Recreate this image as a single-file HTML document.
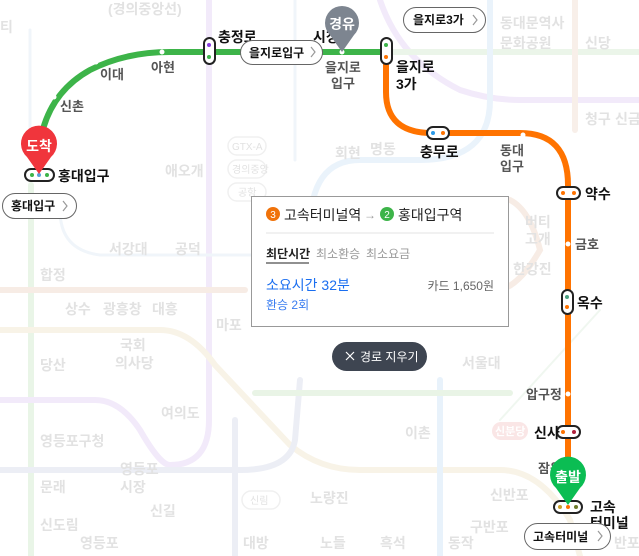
<!DOCTYPE html>
<html><head><meta charset="utf-8"><style>
html,body{margin:0;padding:0;background:#fff;}
body{width:639px;height:556px;overflow:hidden;position:relative;font-family:"Liberation Sans","Noto Sans CJK KR",sans-serif;}
svg{position:absolute;left:0;top:0;}
.f{font-family:"Liberation Sans","Noto Sans CJK KR",sans-serif;}
</style></head><body>
<svg width="639" height="556" viewBox="0 0 639 556" xmlns="http://www.w3.org/2000/svg">
<g fill="none" stroke-width="6" stroke-linecap="round">
<path d="M31 185 L31 556" stroke="#e9f5e7"/>
<path d="M209 0 L209 420 Q209 465 170 465" stroke="#f2eafa"/>
<path d="M0 400 L95 400 Q120 400 140 430 Q160 465 170 465" stroke="#f2eafa"/>
<path d="M380 0 Q400 60 460 90 Q490 100 520 100 L639 100" stroke="#f2eafa"/>
<path d="M0 330 L160 330 Q190 330 215 365 L290 445 Q320 470 360 470 L500 470 Q540 470 570 520 L580 556" stroke="#f8f3e7"/>
<path d="M0 470 L240 470 Q290 470 295 440 L300 380" stroke="#eceef5"/>
<path d="M0 290 L245 290" stroke="#f7ece5"/>
<path d="M235 420 L235 556" stroke="#eceef5"/>
<path d="M440 380 L440 556" stroke="#e8f2fb"/>
<path d="M386 52 L639 52" stroke="#ebf5e9"/>
<path d="M255 393 L510 393" stroke="#e9f4e6"/>
<path d="M310 230 Q310 160 360 160 L420 160 Q490 160 490 100 L490 0" stroke="#eaf3fb"/>
<path d="M575 0 L575 130" stroke="#f8efe9"/>
<path d="M510 200 Q530 210 540 250 Q520 285 500 290" stroke="#f7ece5"/>
<path d="M600 310 L500 420" stroke="#f0f7f0" stroke-width="2"/>
<path d="M60 210 Q60 250 100 255 L260 255" stroke="#f0f5fa" stroke-width="3"/>
<path d="M30 30 L30 150" stroke="#f0f5fa" stroke-width="3"/>
<path d="M295 0 L295 160" stroke="#f0f5fa" stroke-width="3"/>
</g>
<g class="f" font-size="14" fill="#e2e2e2" font-weight="bold">
<text x="108" y="14">(경의중앙선)</text><text x="0" y="32">티</text>
<text x="500" y="28">동대문역사</text><text x="500" y="48">문화공원</text>
<text x="585" y="48">신당</text><text x="585" y="124">청구</text><text x="615" y="124">신금</text>
<text x="165" y="176">애오개</text><text x="109" y="254">서강대</text><text x="175" y="254">공덕</text>
<text x="40" y="280">합정</text><text x="65" y="314">상수</text><text x="103" y="314">광흥창</text><text x="152" y="314">대흥</text>
<text x="216" y="330">마포</text><text x="120" y="350">국회</text><text x="115" y="368">의사당</text>
<text x="40" y="370">당산</text><text x="161" y="418">여의도</text><text x="40" y="446">영등포구청</text>
<text x="120" y="474">영등포</text><text x="120" y="492">시장</text><text x="40" y="492">문래</text>
<text x="150" y="516">신길</text><text x="40" y="530">신도림</text><text x="80" y="548">영등포</text>
<text x="310" y="503">노량진</text><text x="243" y="548">대방</text>
<text x="320" y="548">노들</text><text x="380" y="548">흑석</text><text x="448" y="548">동작</text>
<text x="470" y="532">구반포</text><text x="490" y="500">신반포</text><text x="614" y="548">반포</text>
<text x="462" y="368">서울대</text><text x="405" y="438">이촌</text><text x="335" y="158">회현</text><text x="370" y="154">명동</text>
<text x="525" y="227">버티</text><text x="525" y="244">고개</text><text x="513" y="274">한강진</text>
</g>
<g fill="none" stroke="#f0f0f0" stroke-width="1.5">
<rect x="228" y="137" width="38" height="18" rx="9"/><rect x="228" y="160" width="38" height="18" rx="9"/><rect x="228" y="183" width="38" height="18" rx="9"/>
<rect x="242" y="491" width="38" height="18" rx="9"/>
</g>
<g class="f" font-size="10" fill="#e2e2e2"><text x="232" y="150">GTX-A</text><text x="232" y="173">경의중앙</text><text x="238" y="196">공항</text><text x="250" y="504">신림</text></g>
<rect x="492" y="422" width="36" height="18" rx="9" fill="#fae6e6"/>
<text x="495" y="435" class="f" font-size="11" fill="#fff" font-weight="bold">신분당</text>
<g fill="none" stroke-linecap="round" stroke-width="6">
<path d="M39 172 L39 150 Q45 95 90 70 Q125 52 170 52 L386 52" stroke="#3db449"/>
<path d="M386 50 L386 92 Q386 133 432 133 L520 133 Q568 133 568 185 L568 505" stroke="#ff7300"/>
</g>
<g fill="#fff">
<circle cx="54" cy="97" r="2.5"/><circle cx="96" cy="62" r="2.5"/><circle cx="162" cy="52" r="2.5"/>
<circle cx="342" cy="52" r="2.5"/><circle cx="523" cy="135" r="2.5"/><circle cx="568" cy="244" r="2.5"/><circle cx="568" cy="394" r="2.5"/>
</g>
<g stroke="#222" stroke-width="2" fill="#fff">
<rect x="204" y="38" width="11" height="26" rx="5.5"/>
<rect x="381" y="38" width="11" height="26" rx="5.5"/>
<rect x="427" y="127" width="22" height="12" rx="6"/>
<rect x="557" y="187" width="23" height="12" rx="6"/>
<rect x="562" y="290" width="11" height="24" rx="5.5"/>
<rect x="557" y="426" width="23" height="12" rx="6"/>
<rect x="554" y="501" width="28" height="12" rx="6"/>
<rect x="25" y="169" width="29" height="12" rx="6"/>
</g>
<g>
<circle cx="209" cy="45" r="2" fill="#8a3ee0"/><circle cx="209" cy="57" r="2" fill="#3db449"/>
<circle cx="386" cy="45" r="2" fill="#3db449"/><circle cx="386" cy="57" r="2" fill="#ff7300"/>
<circle cx="433" cy="133" r="2" fill="#2b9ae9"/><circle cx="443" cy="133" r="2" fill="#ff7300"/>
<circle cx="563" cy="193" r="2" fill="#ff7300"/><circle cx="574" cy="193" r="2" fill="#ff7300"/>
<circle cx="567" cy="297" r="2" fill="#4aa080"/><circle cx="567" cy="307" r="2" fill="#ff7300"/>
<circle cx="563" cy="432" r="2" fill="#ff7300"/><circle cx="574" cy="432" r="2" fill="#b0213c"/>
<circle cx="560" cy="507" r="2" fill="#c9a02a"/><circle cx="568" cy="507" r="2" fill="#ff7300"/><circle cx="576" cy="507" r="2" fill="#6d7a2a"/>
<circle cx="32" cy="175" r="2" fill="#3db449"/><circle cx="39" cy="175" r="2" fill="#5aa0d8"/><circle cx="47" cy="175" r="2" fill="#3db449"/>
</g>
<g class="f" font-weight="bold" font-size="14" fill="#111">
<text x="58" y="181">홍대입구</text><text x="218" y="42">충정로</text><text x="313" y="42">시청</text>
<text x="396" y="72">을지로</text><text x="396" y="89">3가</text><text x="420" y="157">충무로</text>
<text x="585" y="199">약수</text><text x="577" y="308">옥수</text><text x="534" y="438">신사</text>
<text x="590" y="512">고속</text><text x="590" y="528">터미널</text>
</g>
<g class="f" font-size="13" fill="#555" font-weight="bold">
<text x="60" y="111">신촌</text><text x="100" y="79">이대</text><text x="151" y="72">아현</text>
<text x="325" y="72">을지로</text><text x="331" y="88">입구</text>
<text x="500" y="155">동대</text><text x="500" y="171">입구</text>
<text x="575" y="249">금호</text><text x="526" y="399">압구정</text><text x="538" y="473">잠원</text>
</g>
<rect x="538" y="458" width="30" height="20" fill="none"/>
<g stroke="#666" stroke-width="1" fill="#fff">
<rect x="2.5" y="193.5" width="74" height="25" rx="12.5"/>
<rect x="240.5" y="40.5" width="82" height="24" rx="12"/>
<rect x="403.5" y="7.5" width="82" height="25" rx="12.5"/>
<rect x="524.5" y="523.5" width="86" height="26" rx="13"/>
</g>
<g class="f" font-weight="bold" font-size="12" fill="#111">
<text x="11" y="210">홍대입구</text><text x="249" y="57">을지로입구</text><text x="413" y="24">을지로3가</text><text x="533" y="541">고속터미널</text>
</g>
<g fill="none" stroke="#999" stroke-width="1.2">
<path d="M63 201 l4 5 l-4 5"/><path d="M311 47 l4 5 l-4 5"/><path d="M473 15 l4 5 l-4 5"/><path d="M598 531 l4 5 l-4 5"/>
</g>
<path d="M39 174 L27 157 A18 18 0 1 1 51 157 Z" fill="#f0353c"/>
<text x="39" y="151" class="f" font-size="14" font-weight="bold" fill="#fff" text-anchor="middle">도착</text>
<path d="M342 52 L330 35 A17 17 0 1 1 354 35 Z" fill="#7d8590"/>
<text x="342" y="29" class="f" font-size="14" font-weight="bold" fill="#fff" text-anchor="middle">경유</text>
<path d="M568 505 L556 488 A18 18 0 1 1 580 488 Z" fill="#0bbd53"/>
<text x="568" y="482" class="f" font-size="14" font-weight="bold" fill="#fff" text-anchor="middle">출발</text>
<rect x="251.5" y="196.5" width="257" height="130" fill="#fff" stroke="#999"/>
<circle cx="273" cy="214" r="7" fill="#f0720a"/><text x="273" y="218" class="f" font-size="10" fill="#fff" text-anchor="middle">3</text>
<text x="284" y="220" class="f" font-size="14" fill="#222">고속터미널역</text>
<text x="364" y="219" class="f" font-size="12" fill="#999">→</text>
<circle cx="387" cy="214" r="7" fill="#3db449"/><text x="387" y="218" class="f" font-size="10" fill="#fff" text-anchor="middle">2</text>
<text x="398" y="220" class="f" font-size="14" fill="#222">홍대입구역</text>
<line x1="266" y1="233" x2="494" y2="233" stroke="#e3e3e3"/>
<text x="266" y="258" class="f" font-size="12" font-weight="bold" fill="#222">최단시간</text>
<line x1="266" y1="263" x2="309" y2="263" stroke="#222"/>
<text x="316" y="258" class="f" font-size="12" fill="#999">최소환승</text>
<text x="366" y="258" class="f" font-size="12" fill="#999">최소요금</text>
<text x="266" y="290" class="f" font-size="14" fill="#1a6ef0">소요시간 32분</text>
<text x="494" y="290" class="f" font-size="12" fill="#666" text-anchor="end">카드 1,650원</text>
<text x="266" y="309" class="f" font-size="12" fill="#3a7df0">환승 2회</text>
<rect x="332" y="342" width="95" height="29" rx="14.5" fill="#3e4551"/>
<path d="M346 352 l8 8 M354 352 l-8 8" stroke="#fff" stroke-width="1.2"/>
<text x="360" y="361" class="f" font-size="12" fill="#fff">경로 지우기</text>
</svg>
</body></html>
